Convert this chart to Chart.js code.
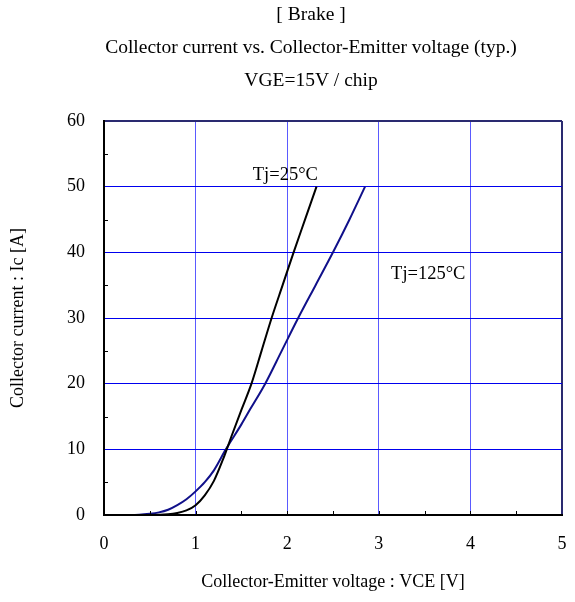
<!DOCTYPE html>
<html>
<head>
<meta charset="utf-8">
<script src="https://cdn.jsdelivr.net/npm/chart.js@4"></script>
<style>
  html, body { margin: 0; padding: 0; background: #fff; }
  #wrap { width: 575px; height: 602px; position: relative; }
</style>
</head>
<body>
<div id="wrap"><canvas id="ivChart"></canvas></div>
<script>
// (VCE [V] / Ic [A])
var vce25 = [0, 0.5, 0.7, 0.8, 0.9, 1.0, 1.1, 1.2, 1.3, 1.4, 1.5, 1.61, 1.72, 1.83, 1.95, 2.07, 2.2, 2.32];
var ic25  = [0, 0,   0.1, 0.3, 0.7, 1.5, 3.0, 5.2, 8.5, 12.3, 16, 20, 25, 30, 35, 40, 45.2, 50];
var vce125 = [0, 0.3, 0.5, 0.6, 0.7, 0.8, 0.9, 1.0, 1.1, 1.2, 1.33, 1.5, 1.6, 1.76, 1.94, 2.12, 2.31, 2.5, 2.68, 2.85];
var ic125  = [0, 0,   0.2, 0.4, 0.8, 1.5, 2.4, 3.6, 5.0, 6.8, 10,  13.8, 16.2, 20, 25, 30, 35, 40, 45, 50];

var xTicks = [0, 1, 2, 3, 4, 5];
var yTicks = [0, 10, 20, 30, 40, 50, 60];
var minorX = [0.5, 1, 1.5, 2, 2.5, 3, 3.5, 4, 4.5];
var minorY = [5, 15, 25, 35, 45, 55];

var titleLines = ["[ Brake ]", "Collector current vs. Collector-Emitter voltage (typ.)", "VGE=15V / chip"];
var curveLabels = [
  { text: "Tj=25°C", x: 1.98, y: 51.7 },
  { text: "Tj=125°C", x: 3.54, y: 36.7 }
];

function toPoints(xs, ys) {
  return xs.map(function (v, i) { return { x: v, y: ys[i] }; });
}

var serif = "'Liberation Serif', 'Times New Roman', serif";

// header + curve labels + inner minor ticks
var extras = {
  id: "extras",
  afterDraw: function (chart) {
    var ctx = chart.ctx, xs = chart.scales.x, ys = chart.scales.y;
    ctx.save();
    ctx.fillStyle = "#000";
    ctx.textAlign = "center";
    ctx.textBaseline = "middle";
    ctx.font = "19.5px " + serif;
    var titleY = [15, 48, 81];
    titleLines.forEach(function (t, i) { ctx.fillText(t, 311, titleY[i]); });

    ctx.font = "18.5px " + serif;
    curveLabels.forEach(function (l) {
      ctx.fillText(l.text, xs.getPixelForValue(l.x), ys.getPixelForValue(l.y));
    });

    ctx.strokeStyle = "#000";
    ctx.lineWidth = 1;
    var b = chart.chartArea.bottom, L = chart.chartArea.left;
    minorX.forEach(function (v) {
      var px = Math.round(xs.getPixelForValue(v)) + 0.5;
      ctx.beginPath(); ctx.moveTo(px, b); ctx.lineTo(px, b - 4); ctx.stroke();
    });
    minorY.forEach(function (v) {
      var py = Math.round(ys.getPixelForValue(v)) + 0.5;
      ctx.beginPath(); ctx.moveTo(L, py); ctx.lineTo(L + 4, py); ctx.stroke();
    });
    ctx.restore();
  }
};

new Chart(document.getElementById("ivChart"), {
  type: "line",
  data: {
    datasets: [{
      label: "Tj=25°C",
      data: toPoints(vce25, ic25),
      borderColor: "#000000",
      borderWidth: 2,
      pointRadius: 0,
      cubicInterpolationMode: "monotone"
    }, {
      label: "Tj=125°C",
      data: toPoints(vce125, ic125),
      borderColor: "#10108a",
      borderWidth: 2,
      pointRadius: 0,
      cubicInterpolationMode: "monotone"
    }]
  },
  options: {
    responsive: true,
    maintainAspectRatio: false,
    animation: false,
    layout: { padding: { left: 0, right: 13, top: 121, bottom: 0 } },
    plugins: {
      legend: { display: false },
      tooltip: { enabled: false }
    },
    scales: {
      x: {
        type: "linear",
        min: 0, max: 5,
        afterBuildTicks: function (s) { s.ticks = xTicks.map(function (v) { return { value: v }; }); },
        afterFit: function (s) { s.height = 87; },
        border: { color: "#000", width: 2 },
        grid: {
          drawTicks: true,
          tickLength: 15,
          tickColor: "rgba(0,0,0,0)",
          color: function (c) {
            if (c.tick && c.tick.value === 5) return "#2a2a70";
            return "#5a5aff";
          },
          lineWidth: function (c) { return (c.tick && c.tick.value === 5) ? 2 : 1; }
        },
        ticks: { padding: 3, color: "#000", font: { family: serif, size: 18 } },
        title: {
          display: true,
          text: "Collector-Emitter voltage : VCE [V]",
          color: "#000",
          font: { family: serif, size: 18 },
          padding: { top: 0, bottom: 9 }
        }
      },
      y: {
        min: 0, max: 60,
        afterBuildTicks: function (s) { s.ticks = yTicks.map(function (v) { return { value: v }; }); },
        afterFit: function (s) { s.width = 104; },
        border: { color: "#000", width: 2 },
        grid: {
          drawTicks: true,
          tickLength: 16,
          tickColor: "rgba(0,0,0,0)",
          color: function (c) {
            if (c.tick && c.tick.value === 60) return "#2a2a70";
            return "#0000ee";
          },
          lineWidth: function (c) { return (c.tick && c.tick.value === 60) ? 2 : 1; }
        },
        ticks: { padding: 3, color: "#000", font: { family: serif, size: 18 } },
        title: {
          display: true,
          text: "Collector current : Ic [A]",
          color: "#000",
          font: { family: serif, size: 18 },
          padding: { top: 7, bottom: 0 }
        }
      }
    }
  },
  plugins: [extras]
});
</script>
</body>
</html>
